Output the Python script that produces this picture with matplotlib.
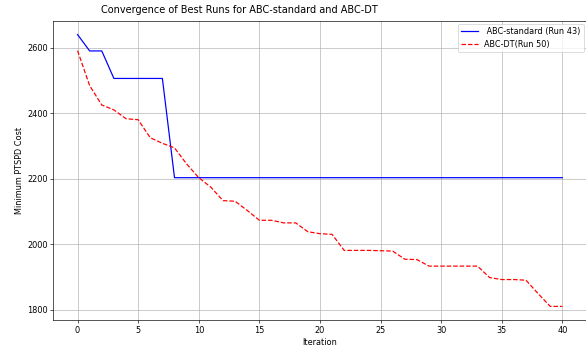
import matplotlib
matplotlib.use("Agg")
import matplotlib.pyplot as plt

iterations = list(range(41))
abc_standard = [2640, 2590, 2590, 2506, 2506, 2506, 2506, 2506] + [2203] * 33
abc_dt = [2591, 2484, 2425, 2410, 2383, 2380, 2325, 2308, 2294, 2245,
          2203, 2174, 2133, 2131, 2103, 2073, 2073, 2065, 2065, 2038,
          2032, 2030, 1981, 1981, 1981, 1980, 1979, 1954, 1953, 1933,
          1933, 1933, 1933, 1933, 1898, 1892, 1892, 1890, 1849, 1810, 1810]
label_std = " ABC-standard (Run 43)"
label_dt = "ABC-DT(Run 50)"
title = "Convergence of Best Runs for ABC-standard and ABC-DT"
xlabel = "Iteration"
ylabel = "Minimum PTSPD Cost"

fig = plt.figure(figsize=(10, 5.905))
ax = fig.add_axes([53.3 / 586, 26 / 346, (586.6 - 53.3) / 586, (320 - 21) / 346])
ax.plot(iterations, abc_standard, color="blue", linestyle="-", label=label_std)
ax.plot(iterations, abc_dt, color="red", linestyle="--", label=label_dt)
ax.set_xlabel(xlabel)
ax.set_ylabel(ylabel)
ax.text(0.348, 1.02, title, transform=ax.transAxes, ha="center", va="bottom", fontsize=12)
ax.set_yticks([1800, 2000, 2200, 2400, 2600])
ax.set_xticks([0, 5, 10, 15, 20, 25, 30, 35, 40])
ax.grid(True)
ax.spines["right"].set_visible(False)
ax.legend(loc="upper right", borderaxespad=0.35)
fig.savefig("out.png", dpi=58.6)
